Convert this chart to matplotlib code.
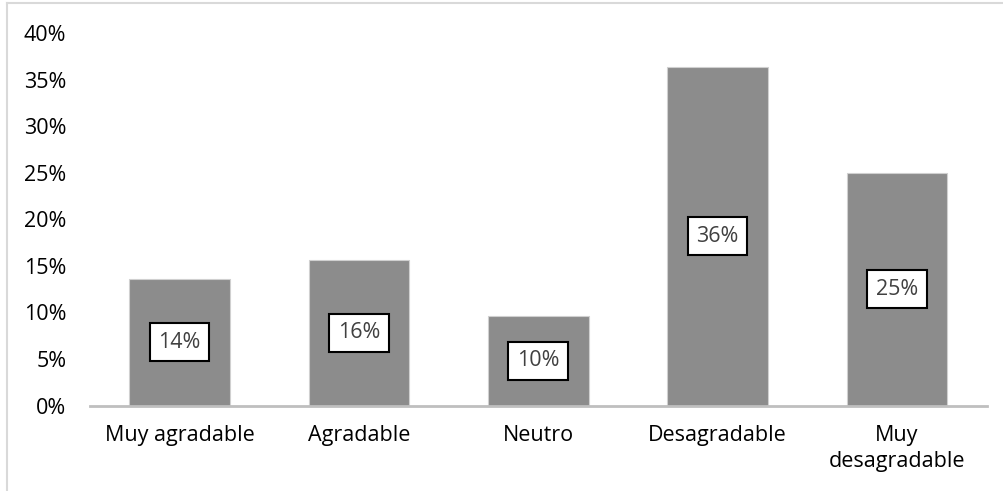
import matplotlib.pyplot as plt
from matplotlib.lines import Line2D
from matplotlib.ticker import PercentFormatter, MultipleLocator

# respuestas de la encuesta (proporciones)
categorias = ['Muy agradable', 'Agradable', 'Neutro', 'Desagradable', 'Muy\ndesagradable']
valores = [0.136, 0.156, 0.096, 0.364, 0.250]

plt.rcParams['font.family'] = ['Open Sans', 'DejaVu Sans']
fs = 15.5

fig = plt.figure(figsize=(10.04, 4.91), dpi=100)
ax = fig.add_axes([90 / 1004, 1 - 405.5 / 491, 896.7 / 1004, (405.5 - 33.3) / 491])

x = range(len(categorias))
bars = ax.bar(x, valores, width=0.56, color='#8c8c8c', edgecolor='#d0d0d0', linewidth=0.8, zorder=2)

# etiquetas de datos en el centro de cada barra
for b, v in zip(bars, valores):
    ax.text(b.get_x() + b.get_width() / 2, v / 2, '{:.0%}'.format(v),
            ha='center', va='center', fontsize=fs, color='#404040', zorder=3,
            bbox=dict(boxstyle='square,pad=0.4', facecolor='white', edgecolor='black', linewidth=1.5))

ax.set_xlim(-0.5, len(categorias) - 0.5)
ax.set_ylim(0, 0.40)
ax.yaxis.set_major_locator(MultipleLocator(0.05))
ax.yaxis.set_major_formatter(PercentFormatter(1.0, decimals=0))
ax.set_xticks(list(x))
ax.set_xticklabels(categorias, linespacing=1.3)

for s in ['top', 'right', 'left']:
    ax.spines[s].set_visible(False)
ax.spines['bottom'].set_color('#bfbfbf')
ax.spines['bottom'].set_linewidth(2)
ax.spines['bottom'].set_zorder(4)

ax.tick_params(axis='y', length=0, pad=17, labelsize=fs, labelcolor='#000000')
ax.tick_params(axis='x', length=0, pad=14, labelsize=fs, labelcolor='#000000')
for t in ax.get_xticklabels():
    t.set_va('top')

# borde del área del gráfico
fig.add_artist(Line2D([7 / 1004, 7 / 1004], [0, 1 - 3 / 491], color='#d9d9d9', lw=1.5))
fig.add_artist(Line2D([7 / 1004, 1], [1 - 3 / 491, 1 - 3 / 491], color='#d9d9d9', lw=1.5))

fig.savefig('out.png', dpi=100)
